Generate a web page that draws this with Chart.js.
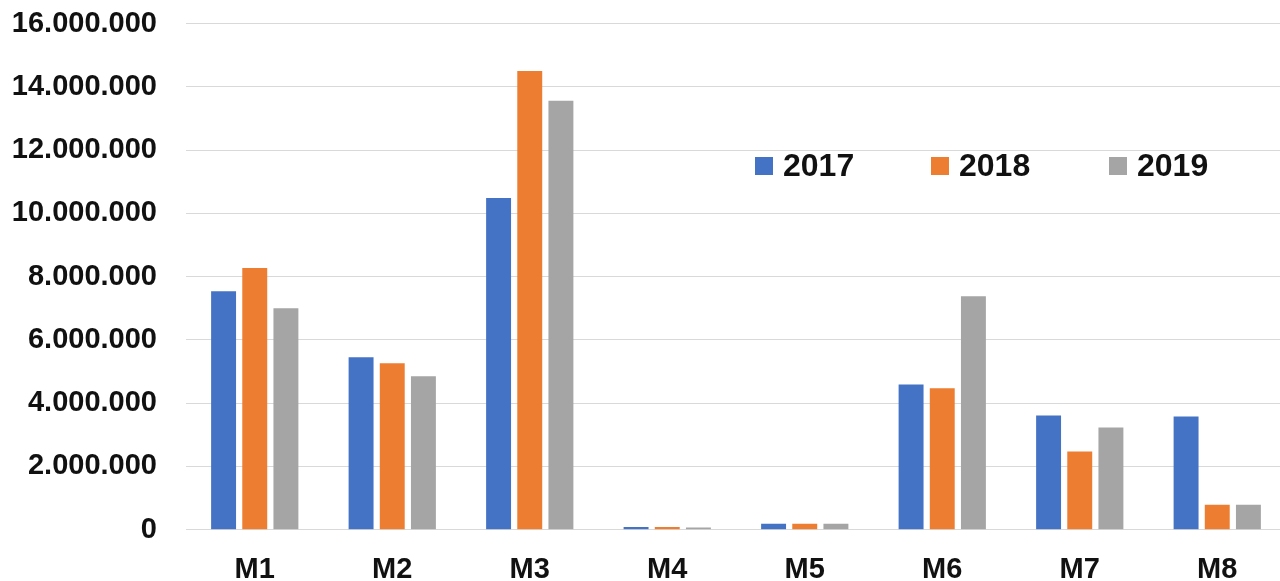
<!DOCTYPE html>
<html>
<head>
<meta charset="utf-8">
<script src="https://cdn.jsdelivr.net/npm/chart.js@4"></script>
<style>
  body { margin: 0; overflow: hidden; background: #fff; }
  #wrap { position: relative; width: 1290px; height: 581px; overflow: hidden; }
  #barChart { position: absolute; top: -22px; left: 0; }
  #leyenda { position: absolute; top: 147px; left: 755px; font: bold 32px "Liberation Sans", Arial, sans-serif; color: #111; display: flex; }
  #leyenda span.item { display: flex; align-items: center; }
  #leyenda span.caja { width: 18px; height: 18px; margin-right: 10px; display: inline-block; }
</style>
</head>
<body>
<div id="wrap">
  <canvas id="barChart" width="1290" height="630"></canvas>
  <div id="leyenda"></div>
</div>
<script>
  const categorias = ['M1', 'M2', 'M3', 'M4', 'M5', 'M6', 'M7', 'M8'];
  const anios = ['2017', '2018', '2019'];
  const valores2017 = [7540000, 5450000, 10490000, 80000, 190000, 4590000, 3610000, 3580000];
  const valores2018 = [8270000, 5260000, 14500000, 80000, 190000, 4470000, 2470000, 790000];
  const valores2019 = [7000000, 4850000, 13560000, 70000, 190000, 7380000, 3230000, 790000];
  const colores = ['#4472C4', '#ED7D31', '#A5A5A5'];

  const fuente = { family: '"Liberation Sans", Arial, sans-serif', size: 29, weight: 'bold', lineHeight: 1.15 };

  function formatoMiles(v) {
    return v.toString().replace(/\B(?=(\d{3})+(?!\d))/g, '.');
  }

  const series = [valores2017, valores2018, valores2019];

  const ctx = document.getElementById('barChart').getContext('2d');
  const chart = new Chart(ctx, {
    type: 'bar',
    data: {
      labels: categorias,
      datasets: series.map((datos, i) => ({
        label: anios[i],
        data: datos,
        backgroundColor: colores[i],
        categoryPercentage: 0.68,
        barPercentage: 0.8
      }))
    },
    options: {
      responsive: false,
      animation: false,
      layout: { padding: { top: 6, right: 4, bottom: 5, left: 10 } },
      plugins: {
        legend: { display: false },
        tooltip: { enabled: false }
      },
      scales: {
        x: {
          grid: { display: false },
          border: { display: false },
          ticks: { color: '#111', font: fuente, padding: 16 }
        },
        y: {
          min: 0,
          max: 16000000,
          afterFit: s => { s.width = 176; },
          grid: { color: '#D9D9D9', lineWidth: 1, drawTicks: false },
          border: { display: false },
          ticks: {
            stepSize: 2000000,
            color: '#111',
            font: fuente,
            padding: 29,
            callback: v => formatoMiles(v)
          }
        }
      }
    }
  });

  // leyenda en HTML dentro del área del gráfico
  const leyenda = document.getElementById('leyenda');
  const posiciones = [0, 176, 354];
  anios.forEach((a, i) => {
    const item = document.createElement('span');
    item.className = 'item';
    item.style.position = 'absolute';
    item.style.left = posiciones[i] + 'px';
    item.innerHTML = '<span class="caja" style="background:' + colores[i] + '"></span>' + a;
    leyenda.appendChild(item);
  });
</script>
</body>
</html>
